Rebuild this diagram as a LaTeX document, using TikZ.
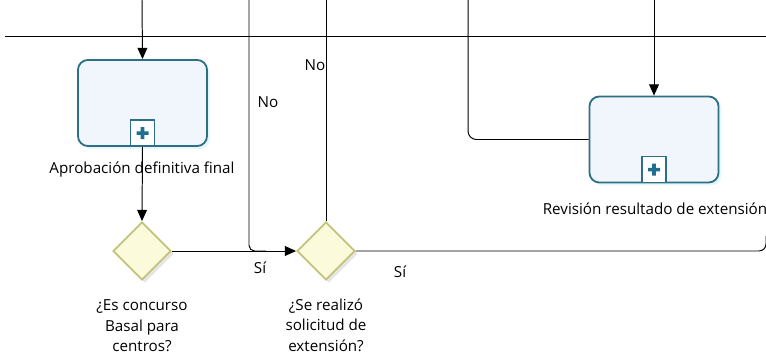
\documentclass[tikz,border=0pt]{standalone}
\usepackage{fontspec}
\setmainfont{Open Sans}
\definecolor{TaskEdge}{HTML}{2F6E87}
\definecolor{TaskFill}{HTML}{F0F6FB}
\definecolor{GateEdge}{HTML}{C2C27A}
\definecolor{GateFill}{HTML}{FBFBDC}
\definecolor{PlusFill}{HTML}{1F7090}
\usetikzlibrary{arrows.meta, positioning, calc, shapes.geometric, shadows}

\begin{document}
\begin{tikzpicture}[x=0.025cm, y=-0.025cm, >={Triangle[width=7pt,length=8pt]},
    flow/.style={draw=black, line width=0.7pt},
    task/.style={draw=TaskEdge, line width=1.3pt, fill=TaskFill, rounded corners=7pt,
      minimum width=3.225cm, minimum height=2.15cm,
      drop shadow={shadow xshift=2pt, shadow yshift=-2pt, opacity=0.25, fill=cyan!40}},
    marker/.style={draw=TaskEdge, line width=1.1pt, fill=white, minimum width=0.6cm,
      minimum height=0.65cm, inner sep=0pt},
    gate/.style={diamond, draw=GateEdge, line width=1.3pt, fill=GateFill, aspect=1,
      minimum width=1.45cm, minimum height=1.45cm, inner sep=0pt,
      drop shadow={shadow xshift=2pt, shadow yshift=-2pt, opacity=0.2, fill=gray}},
    lbl/.style={font=\fontsize{10.8}{14.6}\selectfont, align=center, inner sep=0pt}]
  \useasboundingbox (0,0) rectangle (766,354);
  % --- Lane separator ---
  \draw[line width=0.6pt] (5,36) -- (766,36);
  % --- Tasks ---
  \node[task] (aprob) at (142.5,103) {};
  \node[marker, above=0pt of aprob.south, anchor=south] (aprobM) {};
  \fill[PlusFill] ($(aprobM.center)+(-6,-1.8)$) rectangle ($(aprobM.center)+(6,1.8)$)
    ($(aprobM.center)+(-1.8,-6)$) rectangle ($(aprobM.center)+(1.8,6)$);
  \node[lbl] (aprobL) at (142,170) {Aprobación definitiva final};
  \node[task] (revis) at (654,139.5) {};
  \node[marker, above=0pt of revis.south, anchor=south] (revisM) {};
  \fill[PlusFill] ($(revisM.center)+(-6,-1.8)$) rectangle ($(revisM.center)+(6,1.8)$)
    ($(revisM.center)+(-1.8,-6)$) rectangle ($(revisM.center)+(1.8,6)$);
  \node[lbl] (revisL) at (655,209) {Revisión resultado de extensión};
  % --- Gateways ---
  \node[gate] (basal) at (142,251) {};
  \node[lbl] (basalL) at (142,326) {¿Es concurso\\Basal para\\centros?};
  \node[gate] (exten) at (326,251) {};
  \node[lbl] (extenL) at (326,325) {¿Se realizó\\solicitud de\\extensión?};
  % --- Free ends ---
  \coordinate (inA) at (142,0);
  \coordinate (noA) at (249,0);
  \coordinate (noB) at (326,0);
  \coordinate (retA) at (468,0);
  \coordinate (inB) at (654,0);
  \coordinate (outS) at (766,236);
  % --- Connectors ---
  \draw[flow, ->] (inA) -- (aprob.north);
  \draw[flow, ->] (aprob.south) -- (basal.north);
  \draw[flow, ->] (basal.east) -- (exten.west);
  \draw[flow, rounded corners=4pt] (noA) |- ($(exten.west)+(-30,0)$);
  \draw[flow] (noB) -- (exten.north);
  \draw[flow, rounded corners=5pt] (exten.east) -| (outS);
  \draw[flow, rounded corners=6pt] (retA) |- (revis.west);
  \draw[flow, ->] (inB) -- (revis.north);
  % --- Flow labels ---
  \node[lbl] (noAL) at (268,102) {No};
  \node[lbl] (noBL) at (315,65) {No};
  \node[lbl] (siA) at (260,268) {Sí};
  \node[lbl] (siB) at (400,272) {Sí};
\end{tikzpicture}
\end{document}
